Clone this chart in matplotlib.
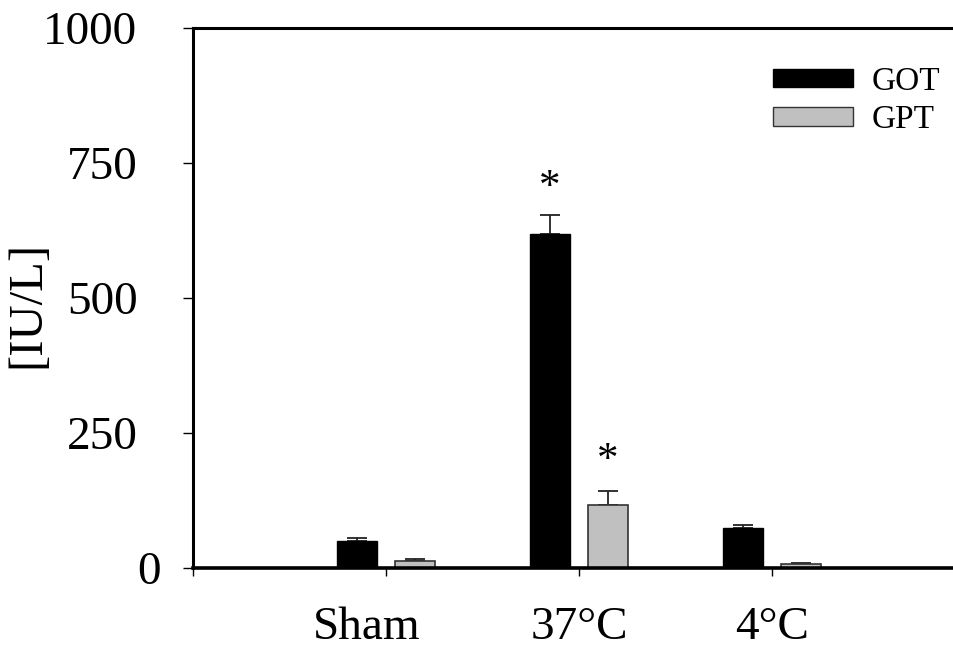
import matplotlib
matplotlib.use("Agg")
import matplotlib.pyplot as plt
import matplotlib.transforms as mtransforms
from matplotlib.patches import Patch
import numpy as np

groups = ["Sham", "37°C", "4°C"]
got = [50, 618, 74]
got_err = [5, 35, 6]
gpt = [13, 117, 6.5]
gpt_err = [4.5, 25, 2.5]
got_sig = [False, True, False]
gpt_sig = [False, True, False]
y_ticks = [0, 250, 500, 750, 1000]

plt.rcParams["font.family"] = ["Liberation Serif", "DejaVu Serif"]

fig = plt.figure(figsize=(9.54, 6.48), dpi=100)
ax = fig.add_axes([193 / 954, 80 / 648, 761 / 954, 540.5 / 648])

x = np.arange(1, len(groups) + 1)
w = 0.207
off = 0.15
ax.bar(x - off, got, w, color="black", edgecolor="black", linewidth=1, zorder=2)
ax.bar(x + off, gpt, w, color="#c0c0c0", edgecolor="#333333", linewidth=1.2, zorder=2)
ax.errorbar(x - off, got, yerr=[np.zeros(3), got_err], fmt="none", ecolor="#222222",
            elinewidth=1.3, capsize=7.5, capthick=1.3, zorder=1)
ax.errorbar(x + off, gpt, yerr=[np.zeros(3), gpt_err], fmt="none", ecolor="#222222",
            elinewidth=1.3, capsize=7.5, capthick=1.3, zorder=1)

for xi, v, e, s in zip(x - off, got, got_err, got_sig):
    if s:
        ax.annotate("*", (xi, v + e), xytext=(0, 20), textcoords="offset points",
                    ha="center", va="center", fontsize=31)
for xi, v, e, s in zip(x + off, gpt, gpt_err, gpt_sig):
    if s:
        ax.annotate("*", (xi, v + e), xytext=(0, 22), textcoords="offset points",
                    ha="center", va="center", fontsize=31)

ax.set_xlim(0, 761 / 193)
ax.set_ylim(0, 1000)
ax.set_yticks(y_ticks)
ax.set_yticklabels([str(t) for t in y_ticks], fontsize=34)
ax.set_xticks([0] + list(x))
ax.set_xticklabels([""] + groups, fontsize=34)
ax.tick_params(axis="y", direction="out", length=7, width=1, pad=33)
ax.tick_params(axis="x", direction="out", length=6, width=1, pad=22)

# SigmaPlot-style nudges
lbls = ax.get_xticklabels()
lbls[1].set_transform(lbls[1].get_transform() + mtransforms.ScaledTranslation(-19 / 100, 0, fig.dpi_scale_trans))
ylbls = ax.get_yticklabels()
ylbls[0].set_transform(ylbls[0].get_transform() + mtransforms.ScaledTranslation(23 / 100, 0, fig.dpi_scale_trans))

ax.set_ylabel("[IU/L]", fontsize=35, va="center")
ax.yaxis.set_label_coords(-166 / 761, 0.487)

ax.spines["right"].set_visible(False)
ax.spines["left"].set_linewidth(2.2)
ax.spines["top"].set_linewidth(2.2)
ax.spines["bottom"].set_linewidth(2.6)
ax.spines["bottom"].set_zorder(3)

handles = [Patch(facecolor="black", edgecolor="black", label="GOT"),
           Patch(facecolor="#c0c0c0", edgecolor="#333333", label="GPT")]
ax.legend(handles=handles, loc="upper left", bbox_to_anchor=(773 / 954, 1 - 66 / 648),
          bbox_transform=fig.transFigure, frameon=False, fontsize=24,
          handlelength=2.4, handleheight=0.46, handletextpad=0.55,
          labelspacing=0.25, borderpad=0, borderaxespad=0)

fig.savefig("out.png", dpi=100, facecolor="white")
